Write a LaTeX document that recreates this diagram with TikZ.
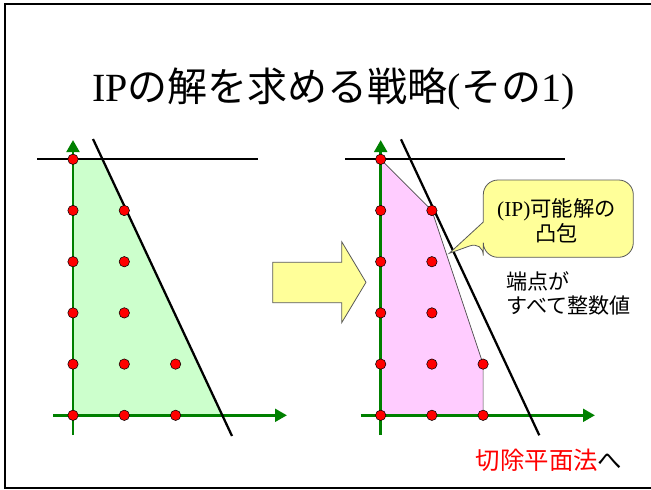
\documentclass[tikz,border=0pt]{standalone}
\usepackage{fontspec}
\setmainfont{Liberation Serif}
\newfontfamily\cjk{Noto Sans CJK JP}
\usetikzlibrary{arrows.meta}
\definecolor{axisgreen}{RGB}{0,128,0}
\definecolor{regiongreen}{RGB}{204,255,204}
\definecolor{hullpink}{RGB}{255,204,255}
\definecolor{noteyellow}{RGB}{255,255,153}
\tikzset{
  axisline/.style={axisgreen, line width=2.2pt, -{Triangle[length=9pt,width=9.5pt]}},
  limitline/.style={black, line width=1.7pt},
  lattice/.style={circle, fill=red, draw=black, line width=0.4pt, inner sep=0pt, minimum size=7.8pt},
  yellowshape/.style={draw=black!65, line width=0.6pt, fill=noteyellow},
}
\begin{document}
\begin{tikzpicture}[x=0.75pt, y=-0.75pt]
\useasboundingbox (0,0) rectangle (651,490);
\draw[line width=1.6pt] (651,4) -- (5,4) -- (5,488) -- (651,488);
\node (title) at (333.5,89) {\fontsize{30}{36}\selectfont IP{\cjk の解を求める戦略}({\cjk その}1)};
\foreach \i in {0,1,2}
  \foreach \j in {0,...,5} {
    \coordinate (l\i\j) at ({73+51.3*\i},{415.3-51.2*\j});
    \coordinate (r\i\j) at ({380.7+51.2*\i},{415.3-51.2*\j});
  }
\coordinate (lcutA) at (93,139);
\coordinate (lcutB) at (232,436);
\coordinate (lcapA) at (37,159.3);
\coordinate (lcapB) at (258,159.3);
\coordinate (lx0) at (53,415.3);
\coordinate (lx1) at (287,415.3);
\coordinate (ly0) at (73,435);
\coordinate (ly1) at (73,140);
\coordinate (rcutA) at (401,139.3);
\coordinate (rcutB) at (539.3,435.3);
\coordinate (rcapA) at (345,159.3);
\coordinate (rcapB) at (565,159.3);
\coordinate (rx0) at (360.7,415.3);
\coordinate (rx1) at (595,415.3);
\coordinate (ry0) at (380.7,435);
\coordinate (ry1) at (380.7,140);
\fill[regiongreen] (l05) -- (intersection of lcutA--lcutB and lcapA--lcapB)
  -- (intersection of lcutA--lcutB and l00--l20) -- (l00) -- cycle;
\filldraw[hullpink, draw=black!70, line width=0.5pt] (r05) -- (r14) -- (r21) -- (r20) -- (r00) -- cycle;
\draw[axisline] (lx0) -- (lx1);
\draw[axisline] (ly0) -- (ly1);
\draw[axisline] (rx0) -- (rx1);
\draw[axisline] (ry0) -- (ry1);
\draw[limitline] (lcapA) -- (lcapB);
\draw[limitline] (lcutA) -- (lcutB);
\draw[limitline] (rcapA) -- (rcapB);
\draw[limitline] (rcutA) -- (rcutB);
\foreach \p in {00,01,02,03,04,05,10,11,12,13,14,20,21} {
  \node[lattice] (ldot\p) at (l\p) {};
  \node[lattice] (rdot\p) at (r\p) {};
}
\filldraw[yellowshape] (272.7,262.3) -- (341.7,262.3) -- (341.7,241.7) -- (366,282.3)
  -- (341.7,322.7) -- (341.7,302.7) -- (272.7,302.7) -- cycle;
\filldraw[yellowshape] (483.3,222) [rounded corners=11pt] -- (483.3,180) -- (633.3,180)
  -- (633.3,257.3) -- (483.3,257.3) -- (483.3,241) [sharp corners] -- (449.3,253.3) -- cycle;
\node[align=center, font=\fontsize{16}{19}\selectfont] (hulltext) at (556.5,220.5)
  {(IP){\cjk 可能解の}\\{\cjk 凸包}};
\node[anchor=west, align=left, font=\cjk\fontsize{15.8}{17.6}\selectfont] (vertextext) at (502,293.5)
  {端点が\\すべて整数値};
\node[font=\cjk\fontsize{18.3}{20}\selectfont] (nexttext) at (549,460)
  {\textcolor{red}{切除平面法}へ};
\end{tikzpicture}
\end{document}
